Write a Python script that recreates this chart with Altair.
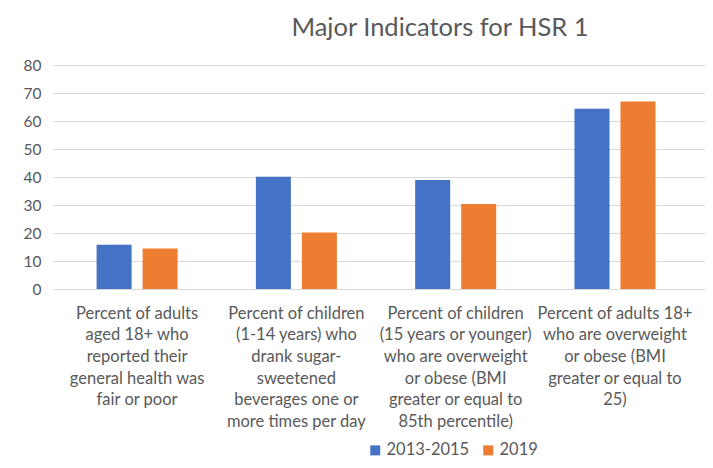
import altair as alt
import pandas as pd

categories = [
    "Percent of adults\naged 18+ who\nreported their\ngeneral health was\nfair or poor",
    "Percent of children\n(1-14 years) who\ndrank sugar-\nsweetened\nbeverages one or\nmore times per day",
    "Percent of children\n(15 years or younger)\nwho are overweight\nor obese (BMI\ngreater or equal to\n85th percentile)",
    "Percent of adults 18+\nwho are overweight\nor obese (BMI\ngreater or equal to\n25)",
]
series = ["2013-2015", "2019"]
values_2013_2015 = [15.8, 40.1, 38.9, 64.4]
values_2019 = [14.5, 20.2, 30.4, 67.0]
y_ticks = [0, 10, 20, 30, 40, 50, 60, 70, 80]
colors = ["#4472C4", "#ED7D31"]

rows = []
for c, a, b in zip(categories, values_2013_2015, values_2019):
    rows.append({"category": c, "series": series[0], "value": a})
    rows.append({"category": c, "series": series[1], "value": b})
df = pd.DataFrame(rows)

FONT = "Lato"
GRAY = "#595959"

chart = alt.Chart(df).mark_bar().encode(
    x=alt.X(
        "category:N",
        sort=categories,
        title=None,
        scale=alt.Scale(paddingInner=0, paddingOuter=0.0465, align=0.3),
        axis=alt.Axis(
            labelAngle=0,
            labelExpr="split(datum.label, '\\n')",
            labelBaseline="top",
            labelLineHeight=21.7,
            labelFontSize=16.5,
            labelFont=FONT,
            labelColor=GRAY,
            labelPadding=16,
            labelLimit=0,
            labelOverlap=False,
            domain=False,
            ticks=False,
        ),
    ),
    xOffset=alt.XOffset(
        "series:N",
        sort=series,
        scale=alt.Scale(paddingInner=0.239, paddingOuter=0.851),
    ),
    y=alt.Y(
        "value:Q",
        title=None,
        scale=alt.Scale(domain=[0, 80], nice=False),
        axis=alt.Axis(
            values=y_ticks,
            grid=True,
            gridColor="#D9D9D9",
            gridWidth=1,
            domain=False,
            ticks=False,
            labelFontSize=15.5,
            labelFont=FONT,
            labelColor=GRAY,
            labelPadding=12,
        ),
    ),
    color=alt.Color(
        "series:N",
        sort=series,
        scale=alt.Scale(domain=series, range=colors),
        legend=alt.Legend(
            title=None,
            orient="none",
            legendX=314,
            legendY=377,
            direction="horizontal",
            symbolType="square",
            symbolSize=100,
            symbolStrokeWidth=0,
            labelFontSize=16.5,
            labelFont=FONT,
            labelColor=GRAY,
            labelOffset=3,
            columnPadding=10,
        ),
    ),
).properties(
    width=652,
    height=224,
    title=alt.TitleParams(
        text="Major Indicators for HSR 1",
        fontSize=25.5,
        font=FONT,
        fontWeight="normal",
        color=GRAY,
        anchor="middle",
        frame="group",
        dx=61,
        offset=17,
    ),
    autosize=alt.AutoSizeParams(type="none"),
    padding={"left": 45, "top": 57, "right": 0, "bottom": 171},
).configure_view(stroke=None)

chart.save("out.html", embed_options={"renderer": "svg", "actions": False})
